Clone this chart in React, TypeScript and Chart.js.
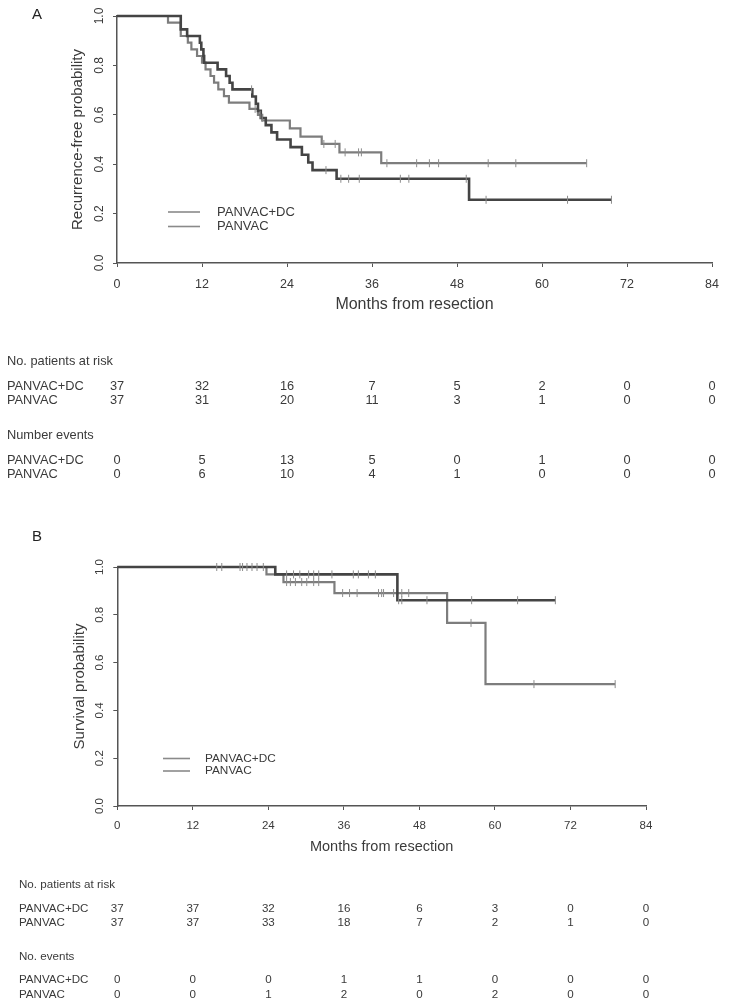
import React, { useEffect, useRef } from "react";
import { Chart, registerables } from "chart.js";

Chart.register(...registerables);

// ---------- shared ----------
const monthTicks = [0, 12, 24, 36, 48, 60, 72, 84];
const probTicks = [0, 0.2, 0.4, 0.6, 0.8, 1.0];
const groupNames = ["PANVAC+DC", "PANVAC"];

// ---------- Panel A: recurrence-free ----------
const rfsDcTimes = [0, 9.0, 9.9, 11.7, 11.9, 12.2, 12.3, 14.2, 15.4, 15.9, 16.3, 19.1, 19.6, 19.9, 20.3, 21.0, 21.8, 22.6, 24.5, 26.1, 27.0, 27.6, 31.0, 49.7];
const rfsDcSurv = [1, 0.946, 0.919, 0.892, 0.865, 0.838, 0.811, 0.784, 0.757, 0.73, 0.703, 0.674, 0.645, 0.616, 0.587, 0.558, 0.529, 0.5, 0.469, 0.438, 0.407, 0.376, 0.341, 0.256];
const rfsDcLast = 69.8;
const rfsDcCensor = [19.0, 20.5, 29.5, 31.6, 32.7, 34.2, 40.0, 41.2, 49.3, 52.1, 63.6, 69.8];

const rfsPTimes = [0, 7.2, 9.0, 10.0, 10.5, 11.3, 12.0, 12.5, 13.2, 13.7, 14.3, 15.1, 15.8, 18.7, 19.9, 20.5, 24.4, 25.9, 28.9, 31.4, 37.3];
const rfsPSurv = [1, 0.973, 0.919, 0.892, 0.865, 0.838, 0.811, 0.784, 0.757, 0.73, 0.703, 0.676, 0.649, 0.624, 0.6, 0.577, 0.545, 0.512, 0.482, 0.448, 0.404];
const rfsPLast = 66.3;
const rfsPCensor = [19.5, 20.2, 29.2, 30.8, 32.2, 34.1, 34.5, 38.1, 42.3, 44.1, 45.4, 52.4, 56.3, 66.3];

const rfsAtRiskDc = [37, 32, 16, 7, 5, 2, 0, 0];
const rfsAtRiskP = [37, 31, 20, 11, 3, 1, 0, 0];
const rfsEventsDc = [0, 5, 13, 5, 0, 1, 0, 0];
const rfsEventsP = [0, 6, 10, 4, 1, 0, 0, 0];

// ---------- Panel B: overall survival ----------
const osDcTimes = [0, 25.1, 44.5];
const osDcSurv = [1, 0.969, 0.861];
const osDcLast = 69.6;
const osDcCensor = [15.8, 19.5, 20.6, 21.4, 22.2, 26.9, 28.0, 29.0, 30.4, 31.2, 32.0, 34.1, 37.5, 38.3, 39.9, 41.0, 44.7, 45.2, 49.2, 56.3, 63.6, 69.6];

const osPTimes = [0, 23.7, 26.4, 34.5, 52.4, 58.5];
const osPSurv = [1, 0.969, 0.937, 0.891, 0.766, 0.51];
const osPLast = 79.1;
const osPCensor = [16.6, 19.9, 23.2, 26.9, 27.5, 28.3, 29.3, 30.1, 31.2, 32.0, 35.8, 36.9, 38.1, 41.5, 42.0, 42.3, 43.9, 45.2, 46.3, 56.2, 66.2, 79.1];

const osAtRiskDc = [37, 37, 32, 16, 6, 3, 0, 0];
const osAtRiskP = [37, 37, 33, 18, 7, 2, 1, 0];
const osEventsDc = [0, 0, 0, 1, 1, 0, 0, 0];
const osEventsP = [0, 0, 1, 2, 0, 2, 0, 0];

// ---------- helpers ----------
type Pt = { x: number; y: number };
const FONT = '"Liberation Sans", Arial, Helvetica, sans-serif';
const DARK = "#444444";
const LIGHT = "#7d7d7d";
const CENSOR = "#8c8c8c";
const TEXT = "#3a3a3a";
const AXIS = "#555555";

function survAt(times: number[], surv: number[], t: number): number {
  let s = surv[0];
  for (let i = 0; i < times.length; i++) if (times[i] <= t) s = surv[i];
  return s;
}
function stepPoints(times: number[], surv: number[], last: number): Pt[] {
  const pts = times.map((t, i) => ({ x: t, y: surv[i] }));
  pts.push({ x: last, y: surv[surv.length - 1] });
  return pts;
}
function censorPoints(times: number[], surv: number[], censor: number[]): Pt[] {
  return censor.map((t) => ({ x: t, y: survAt(times, surv, t) }));
}

type Spec = {
  width: number;
  height: number;
  top: number;
  letter: string;
  letterPos: [number, number];
  padding: { left: number; top: number; right: number; bottom: number };
  yWidth: number;
  xHeight: number;
  yTitle: string;
  yTitleSize: number;
  xTitleSize: number;
  xTickSize: number;
  xTickPad: number;
  yTickSize: number;
  yTickX: number;
  legendLineX: [number, number];
  legendY: [number, number];
  legendTextX: number;
  legendSize: number;
  tableX: number;
  tableSize: number;
  tableRowsY: number[];
  eventsTitle: string;
  atRisk: number[][];
  events: number[][];
  dc: { times: number[]; surv: number[]; last: number; censor: number[] };
  p: { times: number[]; surv: number[]; last: number; censor: number[] };
};

function makeOverlay(spec: Spec) {
  return {
    id: "overlay" + spec.letter,
    afterDraw(chart: any) {
      const ctx = chart.ctx as CanvasRenderingContext2D;
      const xs = chart.scales.x;
      const ys = chart.scales.y;
      ctx.save();
      ctx.fillStyle = TEXT;
      ctx.font = `${spec.yTickSize}px ${FONT}`;
      ctx.textAlign = "center";
      ctx.textBaseline = "middle";
      probTicks.forEach((v) => {
        const y = ys.getPixelForValue(v);
        ctx.save();
        ctx.translate(spec.yTickX, y);
        ctx.rotate(-Math.PI / 2);
        ctx.fillText(v.toFixed(1), 0, 0);
        ctx.restore();
      });
      ctx.strokeStyle = "#8a8a8a";
      ctx.lineWidth = 1.6;
      ctx.font = `${spec.legendSize}px ${FONT}`;
      ctx.textAlign = "left";
      groupNames.forEach((name, i) => {
        const y = spec.legendY[i];
        ctx.beginPath();
        ctx.moveTo(spec.legendLineX[0], y);
        ctx.lineTo(spec.legendLineX[1], y);
        ctx.stroke();
        ctx.fillText(name, spec.legendTextX, y);
      });
      ctx.font = `15px ${FONT}`;
      ctx.fillStyle = "#222";
      ctx.fillText(spec.letter, spec.letterPos[0], spec.letterPos[1]);
      ctx.fillStyle = TEXT;
      ctx.font = `${spec.tableSize}px ${FONT}`;
      const r = spec.tableRowsY;
      ctx.textAlign = "left";
      ctx.fillText("No. patients at risk", spec.tableX, r[0]);
      ctx.fillText(groupNames[0], spec.tableX, r[1]);
      ctx.fillText(groupNames[1], spec.tableX, r[2]);
      ctx.fillText(spec.eventsTitle, spec.tableX, r[3]);
      ctx.fillText(groupNames[0], spec.tableX, r[4]);
      ctx.fillText(groupNames[1], spec.tableX, r[5]);
      ctx.textAlign = "center";
      monthTicks.forEach((m, i) => {
        const x = xs.getPixelForValue(m);
        ctx.fillText(String(spec.atRisk[0][i]), x, r[1]);
        ctx.fillText(String(spec.atRisk[1][i]), x, r[2]);
        ctx.fillText(String(spec.events[0][i]), x, r[4]);
        ctx.fillText(String(spec.events[1][i]), x, r[5]);
      });
      ctx.restore();
    },
  };
}

function makeConfig(spec: Spec): any {
  const censorDs = (data: Pt[]) => ({
    data,
    showLine: false,
    pointStyle: "line",
    rotation: 90,
    pointRadius: 4,
    pointBorderWidth: 1,
    pointBorderColor: CENSOR,
    pointBackgroundColor: CENSOR,
    borderColor: CENSOR,
    clip: false,
  });
  const curveDs = (data: Pt[], color: string, w: number) => ({
    data,
    stepped: "before",
    borderColor: color,
    borderWidth: w,
    pointRadius: 0,
    fill: false,
    clip: false,
    borderCapStyle: "butt",
    borderJoinStyle: "miter",
  });
  return {
    type: "line",
    data: {
      datasets: [
        censorDs(censorPoints(spec.dc.times, spec.dc.surv, spec.dc.censor)),
        censorDs(censorPoints(spec.p.times, spec.p.surv, spec.p.censor)),
        curveDs(stepPoints(spec.dc.times, spec.dc.surv, spec.dc.last), DARK, 2.6),
        curveDs(stepPoints(spec.p.times, spec.p.surv, spec.p.last), LIGHT, 2.2),
      ],
    },
    options: {
      responsive: false,
      animation: false,
      devicePixelRatio: 1,
      layout: { padding: spec.padding },
      plugins: { legend: { display: false }, tooltip: { enabled: false } },
      scales: {
        x: {
          type: "linear",
          min: 0,
          max: 84,
          afterBuildTicks: (s: any) => {
            s.ticks = monthTicks.map((v) => ({ value: v }));
          },
          afterFit: (s: any) => {
            s.height = spec.xHeight;
          },
          grid: { drawOnChartArea: false, drawTicks: true, tickLength: 4, color: AXIS, lineWidth: 1 },
          border: { display: true, color: AXIS, width: 1.5 },
          ticks: {
            font: { size: spec.xTickSize, family: FONT },
            color: TEXT,
            padding: spec.xTickPad,
            maxRotation: 0,
            autoSkip: false,
          },
          title: {
            display: true,
            text: "Months from resection",
            font: { size: spec.xTitleSize, family: FONT },
            color: TEXT,
            padding: 0,
          },
        },
        y: {
          type: "linear",
          min: 0,
          max: 1,
          afterBuildTicks: (s: any) => {
            s.ticks = probTicks.map((v) => ({ value: v }));
          },
          afterFit: (s: any) => {
            s.width = spec.yWidth;
          },
          grid: { drawOnChartArea: false, drawTicks: true, tickLength: 4, color: AXIS, lineWidth: 1 },
          border: { display: true, color: AXIS, width: 1.5 },
          ticks: { display: false },
          title: {
            display: true,
            text: spec.yTitle,
            font: { size: spec.yTitleSize, family: FONT },
            color: TEXT,
            padding: 0,
          },
        },
      },
    },
    plugins: [makeOverlay(spec)],
  };
}

const specA: Spec = {
  width: 729,
  height: 500,
  top: 0,
  letter: "A",
  letterPos: [32, 15],
  padding: { left: 69, top: 16, right: 13, bottom: 185.4 },
  yWidth: 48,
  xHeight: 51.6,
  yTitle: "Recurrence-free probability",
  yTitleSize: 15,
  xTitleSize: 16,
  xTickSize: 12.5,
  xTickPad: 10,
  yTickSize: 12,
  yTickX: 100,
  legendLineX: [168, 200],
  legendY: [212, 226.5],
  legendTextX: 217,
  legendSize: 13,
  tableX: 7,
  tableSize: 12.8,
  tableRowsY: [361, 386, 400, 435, 460, 474],
  eventsTitle: "Number events",
  atRisk: [rfsAtRiskDc, rfsAtRiskP],
  events: [rfsEventsDc, rfsEventsP],
  dc: { times: rfsDcTimes, surv: rfsDcSurv, last: rfsDcLast, censor: rfsDcCensor },
  p: { times: rfsPTimes, surv: rfsPSurv, last: rfsPLast, censor: rfsPCensor },
};

const specB: Spec = {
  width: 729,
  height: 497,
  top: 510,
  letter: "B",
  letterPos: [32, 27],
  padding: { left: 71, top: 57, right: 83, bottom: 151.6 },
  yWidth: 46.3,
  xHeight: 49.4,
  yTitle: "Survival probability",
  yTitleSize: 15,
  xTitleSize: 14.5,
  xTickSize: 11.5,
  xTickPad: 9,
  yTickSize: 11.5,
  yTickX: 100,
  legendLineX: [163, 190],
  legendY: [248.5, 261],
  legendTextX: 205,
  legendSize: 11.8,
  tableX: 19,
  tableSize: 11.6,
  tableRowsY: [375, 398.5, 413, 447, 470, 484.5],
  eventsTitle: "No. events",
  atRisk: [osAtRiskDc, osAtRiskP],
  events: [osEventsDc, osEventsP],
  dc: { times: osDcTimes, surv: osDcSurv, last: osDcLast, censor: osDcCensor },
  p: { times: osPTimes, surv: osPSurv, last: osPLast, censor: osPCensor },
};

function Panel({ spec }: { spec: Spec }) {
  const ref = useRef<HTMLCanvasElement | null>(null);
  useEffect(() => {
    if (!ref.current) return;
    const chart = new Chart(ref.current, makeConfig(spec));
    return () => chart.destroy();
  }, [spec]);
  return (
    <canvas
      ref={ref}
      width={spec.width}
      height={spec.height}
      style={{ position: "absolute", left: 0, top: spec.top, width: spec.width, height: spec.height, display: "block" }}
    />
  );
}

export default function App() {
  return (
    <div style={{ position: "absolute", left: 0, top: 0, width: 729, height: 1007, background: "#fff" }}>
      <Panel spec={specA} />
      <Panel spec={specB} />
    </div>
  );
}
